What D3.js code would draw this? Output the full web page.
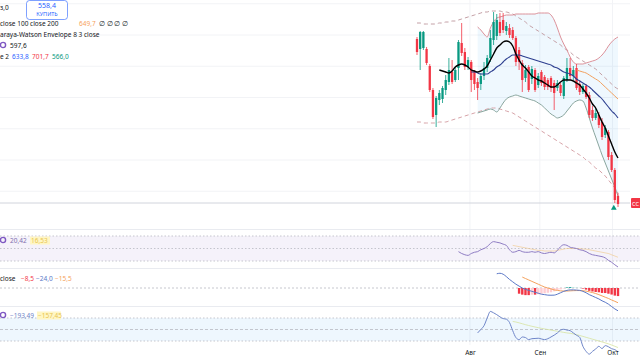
<!DOCTYPE html>
<html><head><meta charset="utf-8">
<script src="https://cdn.jsdelivr.net/npm/d3@7/dist/d3.min.js"></script>
<style>html,body{margin:0;padding:0;background:#fff;}svg{display:block;font-family:"Noto Sans",sans-serif;}</style>
</head><body><svg id="c" width="640" height="360"></svg>
<script>
// ---------- DATA ----------
const opens = [696.8,688.8,689.6,688.8,675.2,656,636,648,648.8,656,
662.4,670.4,664,673.6,693.6,686.4,674.4,678.4,670.4,662.4,
660.8,667.2,673.6,681.6,696,699.2,710.4,712,703.2,705.6,
704,697.6,688,677.6,665.6,674.4,664.8,672,660,670.4,
666.4,664,665.6,661.6,657.6,660,651.2,664,673.6,667.2,
673.6,660.8,654.4,659.2,652,640,633.6,636,630.4,620,
622.4,604,592,571.2];
const closes = [686.4,702.4,702.4,677.6,656,634.4,649.6,653.6,657.6,664,
672,662.4,672,694.4,685.6,674.4,680,664,660.8,657.6,
667.2,673.6,681.6,697.6,710.4,712,701.6,704,707.2,700,
697.6,678.4,678.4,664,672,656,672.8,656,667.2,661.6,
658.4,658.4,657.6,653.6,661.6,653.6,665.6,673.6,667.2,672,
657.6,654.4,659.2,650.4,636,633.6,637.6,628,618.4,625.6,
602.4,592,568,564.8];
const highs = [698.4,703.2,703.2,690.4,676.8,657.6,651.2,656,659.2,668,
681.6,680,674.4,696,709.6,689.6,682.4,680,672,665.6,
669.6,678.4,684,704,718.4,716.8,717.6,717.6,710.4,708.8,
706.4,699.2,690.4,680,676,676,675.2,673.6,669.6,672,
668,665.6,667.2,664,664,661.6,667.2,681.6,681.6,675.2,
676.8,664,660.8,660.8,654.4,643.2,641.6,638.4,633.6,628,
624,606.4,593.6,573.6];
const lows = [684,672,688,676,654.4,632.8,626.4,644,645.6,652,
660,660.8,662.4,664,683.2,672,672,654.4,656,648,
656,664,670.4,678.4,692,696,699.2,701.6,700,697.6,
696,675.2,672,654.4,662.4,654.4,660.8,654.4,657.6,659.2,
656,656,654.4,640,655.2,651.2,648.8,662.4,664,664,
656,652,652.8,648.8,633.6,631.2,632,625.6,616,617.6,
600,590.4,565.6,562.4];

const maFastStart = 7;
const maFast = [672,671.2,670.4,669.6,671.2,674.4,676,676.8,676,674.4,
672,671.2,670.4,671.2,672.8,675.2,680,684.8,689.6,692,
694.4,695.2,694.4,691.2,684.8,680,676,673.6,670.4,667.2,
665.6,664,663.2,661.6,660,658.4,658.4,660,662.4,664,
664,664,663.2,661.6,660,656.8,653.6,649.6,644.8,641.6,
636,630.4,625.6,619.2,612.8,606.4,601.6];
const bbBasisStart = 17;
const bbBasis = [670.4,670.4,669.6,668.8,668.8,668.8,670.4,672,674.4,676,
678.4,680.8,682.4,684,684,684,683.2,682.4,681.6,680.8,
680,679.2,678.4,677.6,676.8,676,674.4,673.6,672,670.4,
669.6,668.8,667.2,664.8,663.2,661.6,660,658.4,656,653.6,
651.2,648.8,645.6,642.4,639.2,636.8,633.6];
const bbStart = 19;
const bbUpper = [706.4,704,700.8,698.4,705.6,710.4,713.6,714.4,715.2,716,
716,716,716.8,716.8,716.8,716.8,716.8,716.8,716.8,717.6,
717.6,717.6,717.6,716,712,705.6,698.4,692.8,688,682.4,
678.4,676.8,676.8,676.8,677.6,678.4,679.2,680,681.6,684,
687.2,691.2,694.4,696.8,698.4];
const bbLower = [637.6,638.4,639.2,640,640.8,640,638.4,641.6,645.6,648.8,
650.4,651.2,652,651.2,650.4,649.6,648.8,648,647.2,645.6,
644,641.6,639.2,636.8,635.2,633.6,634.4,636,639.2,642.4,
645.6,647.2,648,647.2,641.6,633.6,625.6,618.4,611.2,604,
597.6,591.2,584.8,578.4,571.2];
const maSlowStart = 50;
const maSlow = [672,671.2,670.4,669.6,668,666.4,664.8,663.2,660.8,658.4,656,653.6,651.2,648.8];
const nwUpper = [709.6,709.6,708.8,708.8,708.8,708.8,708.8,709.6,709.6,710.4,
710.4,711.2,711.2,712,712.8,713.6,714.4,715.2,716,716.8,
717.6,718.4,718.4,719.2,719.2,719.2,719.2,718.4,718.4,717.6,
716.8,715.2,713.6,712,710.4,708,706.4,704.8,703.2,701.6,
700,698.4,696.8,695.2,693.6,692,689.6,688,686.4,684,
682.4,680.8,679.2,677.6,676,674.4,672.8,670.4,668,665.6,
663.2,660.8,658.4,656.8];
const nwLower = [630.4,630.4,629.6,629.6,629.6,629.6,629.6,630.4,630.4,630.4,
631.2,632,632.8,633.6,634.4,635.2,636,636.8,637.6,638.4,
639.2,640,640.8,641.6,641.6,641.6,640.8,640,639.2,638.4,
637.6,636,634.4,632.8,631.2,629.6,628,626.4,624.8,623.2,
621.6,620,618.4,616.8,615.2,613.6,612,610.4,608.8,607.2,
605.6,604,602.4,600,598.4,596,593.6,592,589.6,587.2,
584,580.8,577.6,573.6];

const rsiStart = 13;
const rsi = [45,42,40,39,42,44,45,48,50,53,
58,61,60,59,57,55,48,44,45,47,
45,44,44,45,44,45,43,42,43,44,
43,47,53,56,55,52,51,50,48,47,
45,42,40,39,38,37,35,31,28,24,20.4];
const rsiMaStart = 30;
const rsiMa = [55,54,53,52,51,50,49,48,47,47,46,46,46,46,47,48,49,50,50,50,50,50,49,49,48,47,46,45,44,43,42,40,38,36];

const macdStart = 25;
const macd = [15,15.5,14.5,12,9,6.5,4,2,0,-1.5,
-2.5,-3.5,-4.5,-5.5,-6.5,-7,-7.5,-7.6,-7.5,-6.5,
-5,-3.5,-2.5,-2,-2,-2.2,-2.5,-3.5,-5,-7,
-8.5,-10,-11.5,-13.5,-15,-17,-19.5,-22,-24];
const signalStart = 33;
const signal = [11.5,10,8.5,7,5.5,4,2.5,1,0,-1,
-2,-2.5,-3,-3.2,-3.2,-3,-2.8,-2.7,-2.7,-2.9,
-3.3,-4,-4.8,-5.8,-7,-8.3,-9.7,-11,-12.6,-14,-15.5];
const histStart = 32;
const hist = [-6,-7,-7.5,-7.5,-7,-7,-6.5,-6,-5.5,-5,
-4.5,-3.5,-2.5,-1.5,-0.5,0.7,1,0.8,0.5,0.2,
-0.6,-1.7,-3,-3.7,-4.2,-4.5,-5.2,-5.3,-6,-6.9,
-8,-8.5];

const cciStart = 19;
const cci = [-30,0,33,100,157,145,129,110,95,90,
60,-10,-70,-88,-65,-70,-88,-80,-78,-76,
-82,-88,-80,-65,-49,-30,-5,2,-5,-10,
-30,-50,-68,-146,-190,-214,-190,-170,-146,-166,
-140,-150,-167,-175,-193.49];
const cciMaStart = 30;
const cciMa = [70,65,58,50,42,35,28,22,16,10,5,0,-5,-10,-15,-20,-25,-30,-33,-38,-45,-52,-60,-68,-76,-84,-92,-100,-108,-116,-125,-135,-146,-157];

const tickLabels = ["Авг","Сен","Окт"];
const tickIndex = [16.6, 38.5, 61.3];
const gridPrices = [575,600,625,650,675,700,725];

// ---------- SCALES ----------
const svg = d3.select("#c");
const W = 640;
const xS = d3.scaleLinear().domain([0, 63]).range([417, 618]);
const yMain = d3.scaleLinear().domain([728, 560]).range([0, 210]);
const yRsi = d3.scaleLinear().domain([70, 30]).range([236, 261]);
const yMacd = d3.scaleLinear().domain([0, -10]).range([288, 297.5]);
const yCci = d3.scaleLinear().domain([100, -100]).range([318, 341]);
const pts = (start, arr) => arr.map((v, k) => [start + k, v]);
const lineGen = (ys) => d3.line().x(d => xS(d[0])).y(d => ys(d[1])).curve(d3.curveMonotoneX);

// ---------- GRID ----------
const grid = svg.append("g");
grid.selectAll("line.h").data(gridPrices).join("line")
  .attr("x1", 0).attr("x2", 630).attr("y1", d => yMain(d)).attr("y2", d => yMain(d))
  .attr("stroke", "#f2f3f6").attr("stroke-width", 1);
grid.selectAll("line.v").data(tickIndex).join("line")
  .attr("x1", d => xS(d)).attr("x2", d => xS(d)).attr("y1", 0).attr("y2", 345)
  .attr("stroke", "#f2f3f6").attr("stroke-width", 1);
[229.5, 268.5, 306.5].forEach(y => svg.append("line").attr("x1", 0).attr("x2", W).attr("y1", y).attr("y2", y).attr("stroke", "#e9ebf0"));

// ---------- MAIN ----------
const main = svg.append("g");
main.append("path").datum(pts(bbStart, bbUpper).map((d, k) => [d[0], d[1], bbLower[k]]))
  .attr("d", d3.area().x(d => xS(d[0])).y0(d => yMain(d[2])).y1(d => yMain(d[1])).curve(d3.curveMonotoneX))
  .attr("fill", "#2196f3").attr("fill-opacity", 0.07);
// current price line
main.append("line").attr("x1", 0).attr("x2", 630).attr("y1", yMain(closes[63]) - 1).attr("y2", yMain(closes[63]) - 1)
  .attr("stroke", "#d1d4dc").attr("stroke-width", 1);

const addLine = (g, data, ys, color, w, dash, op) => g.append("path").datum(data)
  .attr("d", lineGen(ys)).attr("fill", "none").attr("stroke", color).attr("stroke-width", w)
  .attr("stroke-dasharray", dash || null).attr("stroke-opacity", op || 1);

addLine(main, pts(0, nwUpper), yMain, "#c4a0a6", 1, "4,3");
addLine(main, pts(0, nwLower), yMain, "#d7a3a8", 1, "4,3");
addLine(main, pts(bbStart, bbUpper), yMain, "#d9868e", 0.9);
addLine(main, pts(bbStart, bbLower), yMain, "#7d9c93", 0.9);

// candles
const cg = main.append("g");
const idx = d3.range(opens.length);
const col = i => closes[i] >= opens[i] ? "#089981" : "#f23645";
cg.selectAll("line").data(idx).join("line")
  .attr("x1", i => xS(i)).attr("x2", i => xS(i))
  .attr("y1", i => yMain(highs[i])).attr("y2", i => yMain(lows[i]))
  .attr("stroke", col).attr("stroke-width", 0.8);
cg.selectAll("rect").data(idx).join("rect")
  .attr("x", i => xS(i) - 1.15).attr("width", 2.3)
  .attr("y", i => yMain(Math.max(opens[i], closes[i])))
  .attr("height", i => Math.max(1, Math.abs(yMain(opens[i]) - yMain(closes[i]))))
  .attr("fill", col);

addLine(main, pts(maSlowStart, maSlow), yMain, "#f2a15f", 1);
addLine(main, pts(bbBasisStart, bbBasis), yMain, "#2c3e8f", 1.1);
addLine(main, pts(maFastStart, maFast), yMain, "#000000", 1.4);

// buy marker
main.append("path").attr("d", d3.symbol(d3.symbolTriangle, 14)())
  .attr("transform", `translate(${xS(62) - 1},${yMain(lows[62]) + 5})`).attr("fill", "#089981");

// price label
main.append("rect").attr("x", 631).attr("y", yMain(closes[63]) - 6).attr("width", 20).attr("height", 10).attr("fill", "#f23645").attr("rx", 1);
main.append("text").attr("x", 632).attr("y", yMain(closes[63]) + 1.5).attr("font-size", 5.5).attr("fill", "#fff").text("СС");

// ---------- RSI PANEL ----------
const p1 = svg.append("g");
p1.append("rect").attr("x", 0).attr("width", W).attr("y", yRsi(70)).attr("height", yRsi(30) - yRsi(70)).attr("fill", "#7e57c2").attr("fill-opacity", 0.08);
[70, 50, 30].forEach(v => p1.append("line").attr("x1", 0).attr("x2", W).attr("y1", yRsi(v)).attr("y2", yRsi(v))
  .attr("stroke", "#b7b9c2").attr("stroke-dasharray", "1.5,2").attr("stroke-width", 0.8));
addLine(p1, pts(rsiMaStart, rsiMa), yRsi, "#f0c27a", 1, null, 0.55);
addLine(p1, pts(rsiStart, rsi), yRsi, "#8e7cc3", 1);

// ---------- MACD PANEL ----------
const p2 = svg.append("g");
p2.append("line").attr("x1", 0).attr("x2", W).attr("y1", yMacd(0)).attr("y2", yMacd(0))
  .attr("stroke", "#b7b9c2").attr("stroke-dasharray", "2,2").attr("stroke-width", 0.8);
const hIdx = d3.range(hist.length);
const hCol = k => {
  const v = hist[k], p = k > 0 ? hist[k - 1] : v;
  if (v >= 0) return v >= p ? "#26a69a" : "#b2dfdb";
  return v <= p ? "#f23645" : "#ffcdd2";
};
p2.selectAll("rect").data(hIdx).join("rect")
  .attr("x", k => xS(histStart + k) - 1.2).attr("width", 2.4)
  .attr("y", k => Math.min(yMacd(0), yMacd(hist[k])))
  .attr("height", k => Math.abs(yMacd(hist[k]) - yMacd(0)))
  .attr("fill", hCol);
addLine(p2, pts(signalStart, signal), yMacd, "#f5a25d", 1);
addLine(p2, pts(macdStart, macd), yMacd, "#5b78c7", 1);

// ---------- CCI PANEL ----------
const p3 = svg.append("g");
p3.append("rect").attr("x", 0).attr("width", W).attr("y", yCci(100)).attr("height", yCci(-100) - yCci(100)).attr("fill", "#2196f3").attr("fill-opacity", 0.08);
[100, 0, -100].forEach(v => p3.append("line").attr("x1", 0).attr("x2", W).attr("y1", yCci(v)).attr("y2", yCci(v))
  .attr("stroke", "#b7b9c2").attr("stroke-dasharray", v === 0 ? "3,2" : "1.5,2").attr("stroke-width", 0.8));
addLine(p3, pts(cciMaStart, cciMa), yCci, "#d7e3a0", 1, null, 0.8);
addLine(p3, pts(cciStart, cci), yCci, "#6f86c9", 1);

// ---------- X AXIS ----------
const ax = svg.append("g").attr("transform", "translate(0,347)")
  .call(d3.axisBottom(xS).tickValues(tickIndex).tickFormat((d, i) => tickLabels[i]).tickSize(0));
ax.select(".domain").remove();
ax.selectAll("text").attr("font-size", 6.5).attr("fill", "#131722").attr("font-family", "Noto Sans");

// ---------- LEGENDS ----------
const T = (x, y, s, c, size, anchor) => svg.append("text").attr("x", x).attr("y", y).attr("font-size", size || 6.5)
  .attr("fill", c || "#131722").attr("text-anchor", anchor || "start").text(s);
T(0, 10, "з,0");
svg.append("rect").attr("x", 26.5).attr("y", 0.5).attr("width", 41).attr("height", 19).attr("rx", 3)
  .attr("fill", "#fff").attr("stroke", "#2962ff").attr("stroke-opacity", 0.6);
T(47, 8, "558,4", "#2962ff", 7, "middle");
T(47, 16, "КУПИТЬ", "#2962ff", 5.5, "middle");
T(0, 26, "close 100 close 200");
T(79, 26, "649,7", "#f7a35c");
T(99, 26, "∅ ∅ ∅ ∅", "#131722");
T(0, 37, "araya-Watson Envelope 8 3 close");
svg.append("circle").attr("cx", 3).attr("cy", 45).attr("r", 2.6).attr("fill", "none").attr("stroke", "#7e57c2").attr("stroke-width", 1.4);
T(10, 48, "597,6");
T(0, 59, "e 2");
T(12, 59, "633,8", "#2962ff");
T(32, 59, "701,7", "#f23645");
T(52, 59, "566,0", "#089981");

svg.append("circle").attr("cx", 3).attr("cy", 240).attr("r", 2.6).attr("fill", "none").attr("stroke", "#7e57c2").attr("stroke-width", 1.4);
T(10, 243, "20,42", "#7e6fae");
svg.append("rect").attr("x", 30).attr("y", 236.5).attr("width", 20).attr("height", 8).attr("fill", "#fff6c4");
T(31, 243, "16,53", "#e8c552");

T(0, 281, "close");
T(21, 281, "−8,5", "#f23645");
T(36, 281, "−24,0", "#5b78c7");
T(55, 281, "−15,5", "#f5a25d");

svg.append("circle").attr("cx", 3).attr("cy", 315).attr("r", 2.6).attr("fill", "none").attr("stroke", "#7e57c2").attr("stroke-width", 1.4);
T(10, 318, "−193,49", "#6f86c9");
svg.append("rect").attr("x", 37).attr("y", 311.5).attr("width", 24).attr("height", 8).attr("fill", "#fff6c4");
T(38, 318, "−157,45", "#e8c552");
</script></body></html>
